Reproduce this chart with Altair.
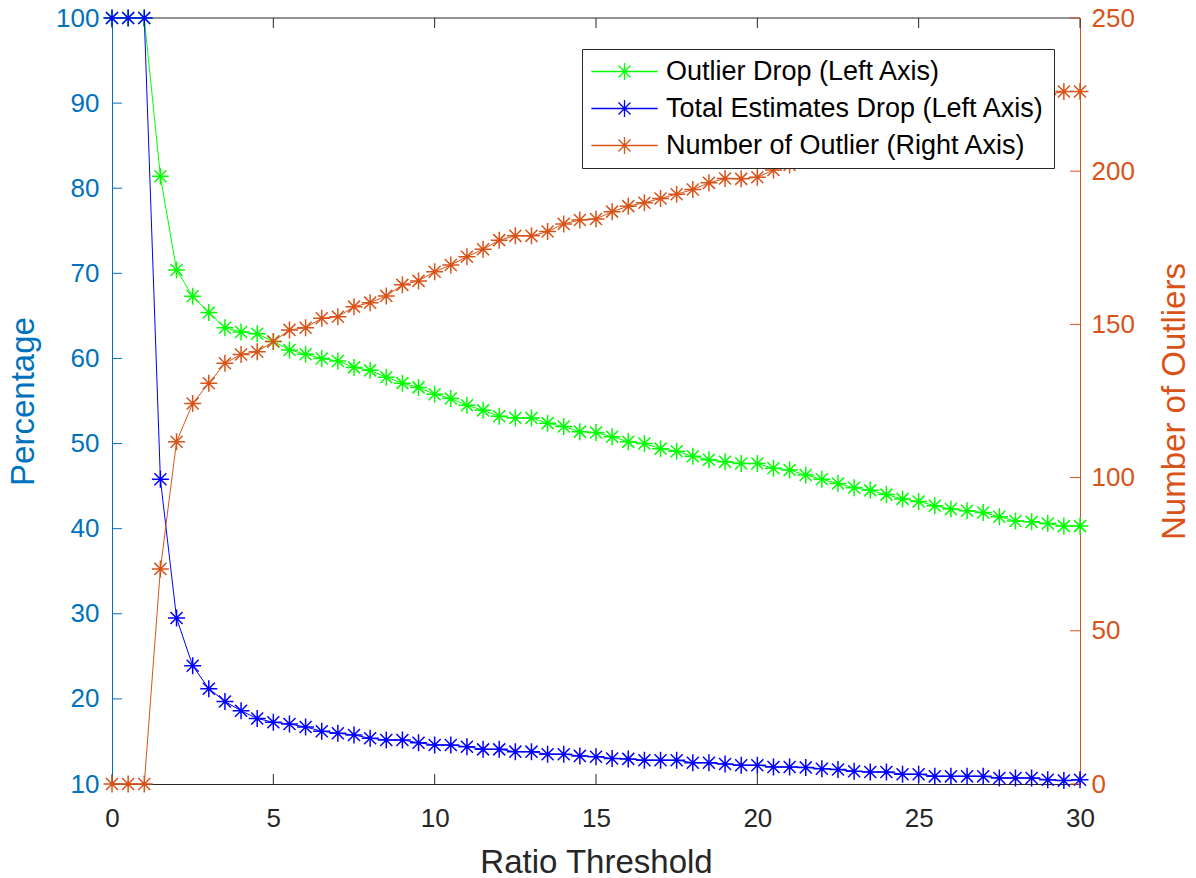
import altair as alt
import pandas as pd

# ---------------- data ----------------
x_vals = [0, 0.5, 1, 1.5, 2, 2.5, 3, 3.5, 4, 4.5, 5, 5.5, 6, 6.5, 7, 7.5, 8, 8.5, 9, 9.5,
          10, 10.5, 11, 11.5, 12, 12.5, 13, 13.5, 14, 14.5, 15, 15.5, 16, 16.5, 17, 17.5,
          18, 18.5, 19, 19.5, 20, 20.5, 21, 21.5, 22, 22.5, 23, 23.5, 24, 24.5, 25, 25.5,
          26, 26.5, 27, 27.5, 28, 28.5, 29, 29.5, 30]

outlier_drop = [100, 100, 100, 81.4, 70.4, 67.3, 65.4, 63.6, 63.1, 62.9, 62.0, 61.0, 60.5, 60.0,
                59.7, 58.95, 58.6, 57.8, 57.1, 56.6, 55.8, 55.3, 54.5, 53.9, 53.2, 53.0, 53.0,
                52.4, 52.0, 51.4, 51.3, 50.8, 50.2, 50.0, 49.4, 49.1, 48.5, 48.1, 47.85, 47.65,
                47.65, 47.1, 46.9, 46.3, 45.8, 45.3, 44.8, 44.5, 44.0, 43.5, 43.2, 42.7, 42.3,
                42.1, 41.9, 41.4, 40.9, 40.8, 40.6, 40.3, 40.3]

total_drop = [100, 100, 100, 45.8, 29.5, 23.9, 21.2, 19.7, 18.6, 17.7, 17.25, 17.05, 16.7, 16.2,
              15.96, 15.76, 15.37, 15.17, 15.17, 14.85, 14.58, 14.58, 14.38, 14.07, 14.07, 13.8,
              13.8, 13.5, 13.5, 13.3, 13.2, 13.0, 12.95, 12.8, 12.8, 12.8, 12.5, 12.5, 12.35,
              12.2, 12.2, 12.0, 12.0, 11.95, 11.8, 11.7, 11.5, 11.4, 11.4, 11.15, 11.15, 10.9,
              10.9, 10.9, 10.9, 10.7, 10.7, 10.7, 10.5, 10.4, 10.5]

num_outliers = [0, 0, 0, 70.2, 111.7, 124.2, 130.8, 137.3, 140.2, 141.1, 144.4, 148.2, 148.9,
                152.0, 152.5, 155.8, 157.1, 159.3, 162.9, 164.2, 167.2, 169.4, 172.1, 174.5,
                177.5, 178.9, 178.9, 180.3, 182.8, 184.1, 184.4, 186.8, 188.6, 189.7, 191.1,
                192.5, 194.0, 196.2, 197.6, 197.5, 198.0, 200.4, 202.0, 203.5, 205.0, 206.5,
                208.5, 210.0, 211.5, 213.0, 214.5, 216.0, 217.5, 218.5, 220.0, 221.0, 222.5,
                223.5, 225.0, 226.0, 226.0]

x_ticks = [0, 5, 10, 15, 20, 25, 30]
left_ticks = [10, 20, 30, 40, 50, 60, 70, 80, 90, 100]
right_ticks = [0, 50, 100, 150, 200, 250]

series_names = ["Outlier Drop (Left Axis)",
                "Total Estimates Drop (Left Axis)",
                "Number of Outlier (Right Axis)"]
series_colors = ["#00FF00", "#0000FF", "#D95319"]

# ---------------- styling ----------------
W, H = 968, 766
FONT = "Liberation Sans"
DARK = "#262626"
BLUE_AX = "#0072BD"
ORANGE = "#D95319"
TICK = 10

ASTER = ("M-1,0L1,0M0,-1L0,1M-0.7071,-0.7071L0.7071,0.7071"
         "M-0.7071,0.7071L0.7071,-0.7071")
LEG_SYM = ("M-3.9,0L3.9,0M-1,0L1,0M0,-1L0,1M-0.7071,-0.7071L0.7071,0.7071"
           "M-0.7071,0.7071L0.7071,-0.7071")

left_df = pd.DataFrame({
    "x": x_vals * 2,
    "value": outlier_drop + total_drop,
    "series": [series_names[0]] * len(x_vals) + [series_names[1]] * len(x_vals),
})
right_df = pd.DataFrame({
    "x": x_vals,
    "count": num_outliers,
    "series": [series_names[2]] * len(x_vals),
})
xt_df = pd.DataFrame({"x": x_ticks})
lt_df = pd.DataFrame({"value": left_ticks})
rt_df = pd.DataFrame({"count": right_ticks})

x_scale = alt.Scale(domain=[0, 30], nice=False, zero=False)
X_ENC = alt.X(
    "x:Q", scale=x_scale,
    axis=alt.Axis(values=x_ticks, tickSize=0, domainColor=DARK, domainWidth=1,
                  labelColor=DARK, labelFontSize=26, labelFont=FONT, labelPadding=21,
                  labelFlush=False, grid=False, title="Ratio Threshold",
                  titleFontSize=33, titleFont=FONT, titleFontWeight="normal",
                  titleColor=DARK, titlePadding=15, format="d"),
)

yl_scale = alt.Scale(domain=[10, 100], nice=False, zero=False)
YL_ENC = alt.Y(
    "value:Q", scale=yl_scale,
    axis=alt.Axis(orient="left", values=left_ticks, tickSize=0, domainColor=BLUE_AX,
                  domainWidth=1, labelColor=BLUE_AX, labelFontSize=26, labelFont=FONT,
                  labelPadding=13, labelFlush=False, grid=False, title="Percentage",
                  titleFontSize=33, titleFont=FONT, titleFontWeight="normal",
                  titleColor=BLUE_AX, titlePadding=15),
)

yr_scale = alt.Scale(domain=[0, 250], nice=False, zero=False)
YR_ENC = alt.Y(
    "count:Q", scale=yr_scale,
    axis=alt.Axis(orient="right", values=right_ticks, tickSize=0, domainColor=ORANGE,
                  domainWidth=1, labelColor=ORANGE, labelFontSize=26, labelFont=FONT,
                  labelPadding=11, labelFlush=False, grid=False,
                  title="Number of Outliers", titleFontSize=33, titleFont=FONT,
                  titleFontWeight="normal", titleColor=ORANGE, titlePadding=24,
                  titleAngle=270, titleBaseline="top"),
)

COLOR = alt.Color(
    "series:N",
    scale=alt.Scale(domain=series_names, range=series_colors),
    legend=alt.Legend(
        title=None, orient="none", legendX=470, legendY=31,
        symbolType=LEG_SYM, symbolSize=289, symbolStrokeWidth=1.3,
        symbolOffset=20, labelOffset=28,
        labelFontSize=27, labelFont=FONT, labelColor="#000000", labelLimit=600,
        padding=9, rowPadding=9, strokeColor=DARK, fillColor="white",
        cornerRadius=0,
    ),
)

# ---------------- left layers ----------------
left_lines = alt.Chart(left_df).mark_line(strokeWidth=1).encode(
    x=X_ENC, y=YL_ENC, color=COLOR,
)
left_points = alt.Chart(left_df).mark_point(
    shape=ASTER, filled=False, size=289, strokeWidth=1.5, opacity=1
).encode(x=X_ENC, y=YL_ENC, color=COLOR)

left_tick_marks = alt.Chart(lt_df).mark_rule(color=BLUE_AX, strokeWidth=1).encode(
    y=YL_ENC, x=alt.value(0), x2=alt.value(TICK)
)
bottom_ticks = alt.Chart(xt_df).mark_rule(color=DARK, strokeWidth=1).encode(
    x=X_ENC, y=alt.value(H), y2=alt.value(H - TICK)
)
top_ticks = alt.Chart(xt_df).mark_rule(color=DARK, strokeWidth=1).encode(
    x=X_ENC, y=alt.value(0), y2=alt.value(TICK)
)
top_border = alt.Chart(xt_df.head(1)).mark_rule(color=DARK, strokeWidth=1).encode(
    x=alt.value(0), x2=alt.value(W), y=alt.value(0)
)

left = alt.layer(top_border, bottom_ticks, top_ticks, left_tick_marks,
                 left_lines, left_points)

# ---------------- right layers ----------------
right_line = alt.Chart(right_df).mark_line(strokeWidth=1).encode(
    x=X_ENC, y=YR_ENC, color=COLOR,
)
right_points = alt.Chart(right_df).mark_point(
    shape=ASTER, filled=False, size=289, strokeWidth=1.5, opacity=1
).encode(x=X_ENC, y=YR_ENC, color=COLOR)
right_tick_marks = alt.Chart(rt_df).mark_rule(color=ORANGE, strokeWidth=1).encode(
    y=YR_ENC, x=alt.value(W), x2=alt.value(W - TICK)
)
right = alt.layer(right_tick_marks, right_line, right_points)

chart = alt.layer(left, right).resolve_scale(y="independent").properties(
    width=W, height=H,
    padding={"left": 112, "top": 18, "right": 116, "bottom": 94},
    autosize=alt.AutoSizeParams(type="none"),
    background="white",
).configure_view(strokeWidth=0)

chart.save("out.html", embed_options={"renderer": "svg", "actions": False})
